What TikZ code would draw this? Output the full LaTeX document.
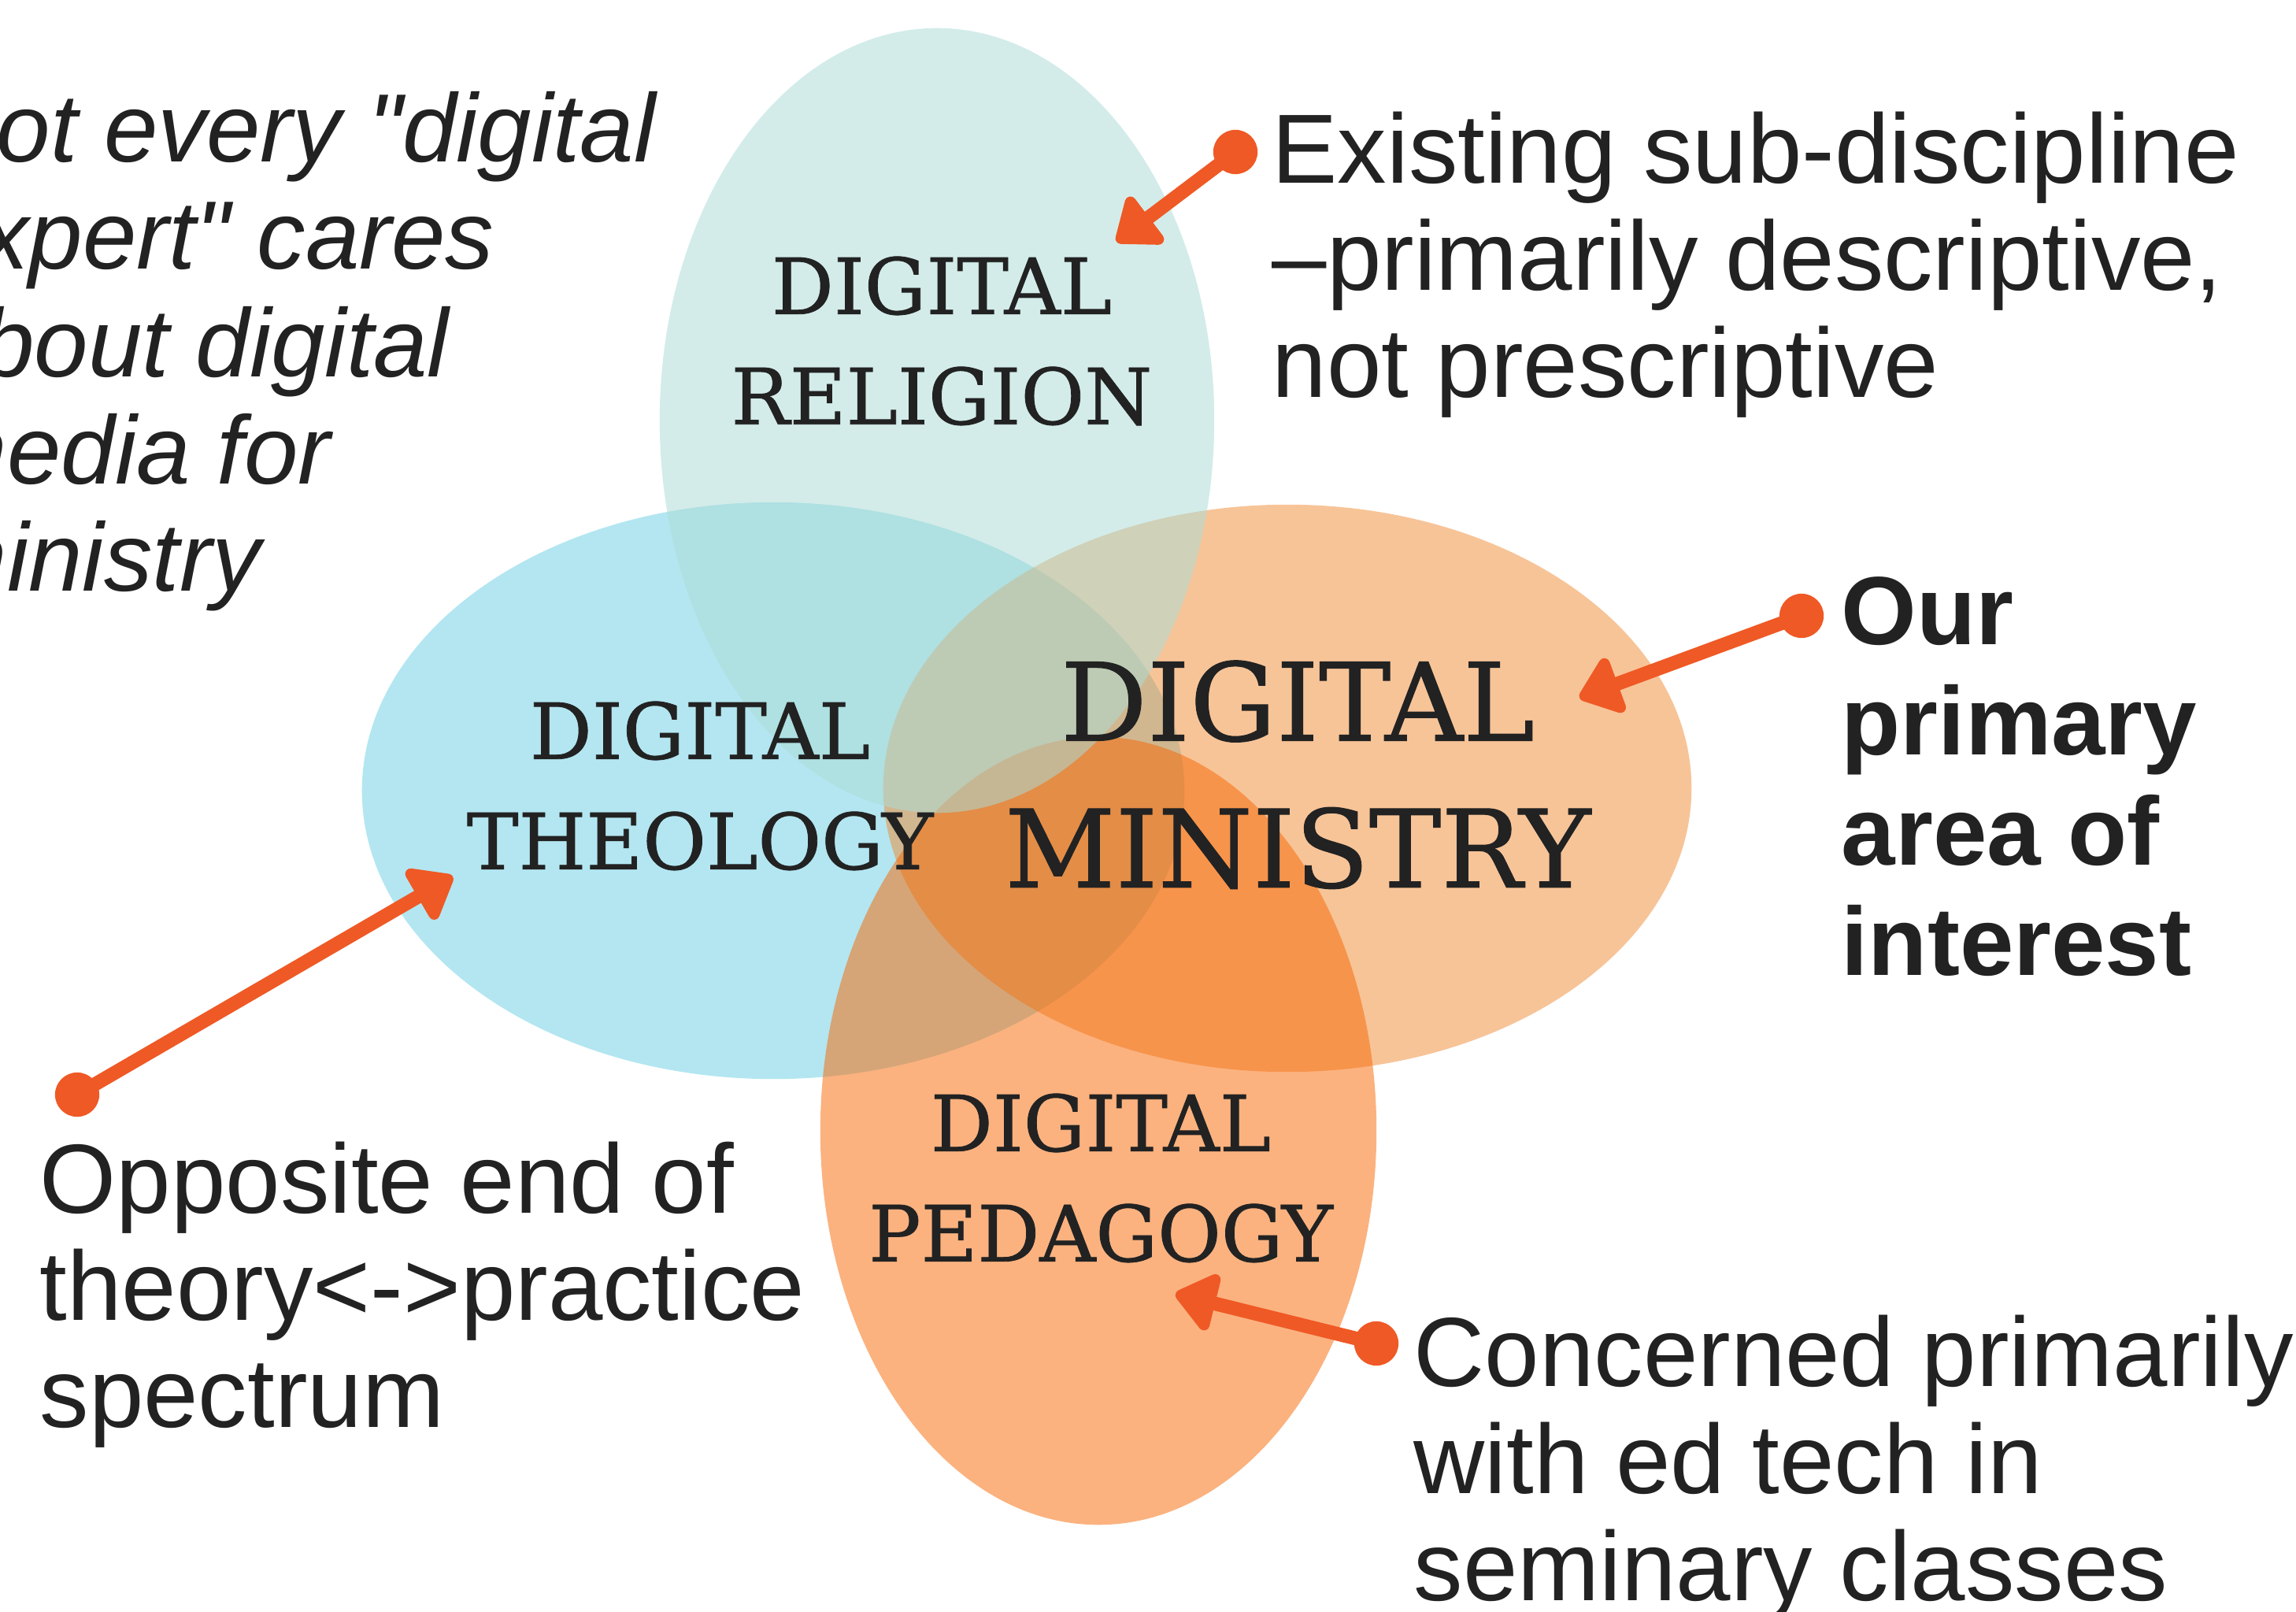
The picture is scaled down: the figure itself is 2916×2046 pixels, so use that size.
\documentclass[tikz,border=0pt]{standalone}
\usepackage{fontspec}
\usepackage{tikz}
\usetikzlibrary{arrows.meta}
\setmainfont{Liberation Sans}
\newfontfamily\plainfont{Liberation Sans}[Ligatures=TeXOff]
\newfontfamily\slabfont[FakeBold=0.8]{DejaVu Serif}

\definecolor{ink}{HTML}{222222}
\definecolor{arrowred}{RGB}{239,89,37}
\definecolor{theocol}{RGB}{103,205,227}
\definecolor{minicol}{RGB}{239,137,49}
\definecolor{pedacol}{RGB}{247,101,0}
\definecolor{relicol}{RGB}{174,220,214}

\begin{document}
\begin{tikzpicture}[x=0.01cm,y=-0.01cm]
        \tikzset{blob/.style = {fill opacity=0.5}}
        \tikzset{tag/.style = {align=center, anchor=north, inner sep=0pt, text=ink, font=\slabfont\fontsize{28}{39.8}\selectfont}}
        \tikzset{bigtag/.style = {tag, font=\slabfont\fontsize{39}{53}\selectfont}}
        \tikzset{note/.style = {align=left, anchor=north west, inner sep=0pt, text=ink, font=\fontsize{35.5}{38.7}\selectfont}}
        \tikzset{dot/.style = {shape=circle, fill=arrowred, inner sep=0pt, minimum size=16pt}}
        \tikzset{hint/.style = {-{Triangle[length=16pt,width=24pt,round]}, line width=5pt, draw=arrowred}}
        \useasboundingbox (0,0) rectangle (2916,2046);
        \clip (0,0) rectangle (2916,2046);
        % fields
        \fill[blob, fill=theocol] (982,1004) ellipse [x radius=5.22cm, y radius=3.66cm];
        \fill[blob, fill=minicol] (1635,1001) ellipse [x radius=5.13cm, y radius=3.60cm];
        \fill[blob, fill=pedacol] (1395,1436) ellipse [x radius=3.53cm, y radius=5.00cm];
        \fill[fill opacity=0.54, fill=relicol] (1190,534) ellipse [x radius=3.52cm, y radius=4.98cm];
        % field names
        \node[tag] (religion) at (1196,325) {DIGITAL\\RELIGION};
        \node[tag] (theology) at (889,890) {DIGITAL\\THEOLOGY};
        \node[bigtag] (ministry) at (1648,838) {DIGITAL\\MINISTRY};
        \node[tag] (pedagogy) at (1398,1388) {DIGITAL\\PEDAGOGY};
        % notes
        \node[note, font=\plainfont\itshape\fontsize{35}{38.7}\selectfont] (expert) at (-94,116) {Not every "digital\\expert" cares\\about digital\\media for\\ministry};
        \node[note] (existing) at (1615,141) {Existing sub-discipline\\--primarily descriptive,\\not prescriptive};
        \node[note, font=\bfseries\fontsize{35}{39.8}\selectfont] (ours) at (2338,732) {Our\\primary\\area of\\interest};
        \node[note] (opposite) at (50,1449) {Opposite end of\\theory<->practice\\spectrum};
        \node[note] (concerned) at (1795,1669) {Concerned primarily\\with ed tech in\\seminary classes};
        % pointers
        \node[dot] (d1) at (1569,193) {};
        \node[dot] (d2) at (2288,782) {};
        \node[dot] (d3) at (98,1390) {};
        \node[dot] (d4) at (1748,1706) {};
        \coordinate (t1) at (1418,307);
        \coordinate (t2) at (2006,886);
        \coordinate (t3) at (575,1113);
        \coordinate (t4) at (1493,1643);
        \draw[hint] (d1.center) to (t1);
        \draw[hint] (d2.center) to (t2);
        \draw[hint] (d3.center) to (t3);
        \draw[hint] (d4.center) to (t4);
\end{tikzpicture}
\end{document}
